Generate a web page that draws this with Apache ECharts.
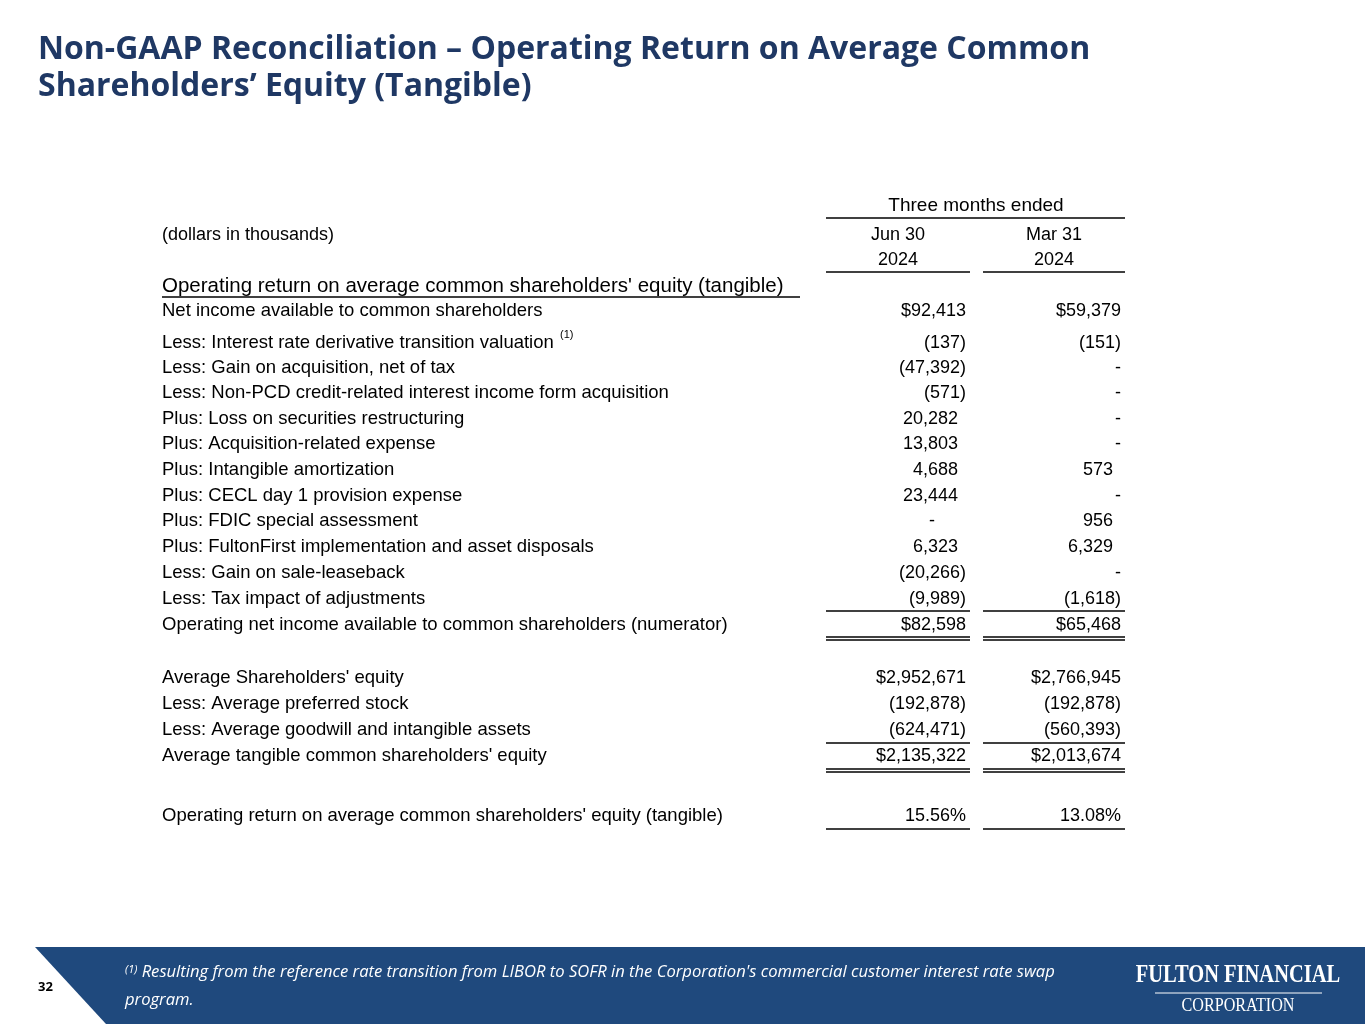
<!DOCTYPE html>
<html><head><meta charset="utf-8">
<script src="https://cdn.jsdelivr.net/npm/echarts@6/dist/echarts.min.js"></script>
<style>html,body{margin:0;padding:0;background:#fff}#main{width:1365px;height:1024px}</style>
</head><body><div id="main"></div>
<script>
var chart = echarts.init(document.getElementById('main'));
var F = "'Liberation Sans',Arial,sans-serif";
var navy = '#1f3864';

// label, Jun 30 2024, Mar 31 2024, y
var rows = [
  ['Net income available to common shareholders', '$92,413', '$59,379', 311],
  ['Less: Interest rate derivative transition valuation', '(137)', '(151)', 343, true],
  ['Less: Gain on acquisition, net of tax', '(47,392)', '-', 368],
  ['Less: Non-PCD credit-related interest income form acquisition', '(571)', '-', 393],
  ['Plus: Loss on securities restructuring', '20,282', '-', 419],
  ['Plus: Acquisition-related expense', '13,803', '-', 444],
  ['Plus: Intangible amortization', '4,688', '573', 470],
  ['Plus: CECL day 1 provision expense', '23,444', '-', 496],
  ['Plus: FDIC special assessment', '-', '956', 521],
  ['Plus: FultonFirst implementation and asset disposals', '6,323', '6,329', 547],
  ['Less: Gain on sale-leaseback', '(20,266)', '-', 573],
  ['Less: Tax impact of adjustments', '(9,989)', '(1,618)', 599],
  ['Operating net income available to common shareholders (numerator)', '$82,598', '$65,468', 625],
  ['Average Shareholders\' equity', '$2,952,671', '$2,766,945', 678],
  ['Less: Average preferred stock', '(192,878)', '(192,878)', 704],
  ['Less: Average goodwill and intangible assets', '(624,471)', '(560,393)', 730],
  ['Average tangible common shareholders\' equity', '$2,135,322', '$2,013,674', 756],
  ['Operating return on average common shareholders\' equity (tangible)', '15.56%', '13.08%', 816]
];

function valX(v, col) {
  var base = col === 0 ? 967 : 1122;
  if (v === '-') return col === 0 ? 932 : 1118;
  if (v.charAt(0) === '(' || v.charAt(0) === '$' || v.indexOf('%') > 0) return base - 1;
  return base - 9;
}

function txt(x, y, s, o) {
  o = o || {};
  return {type: 'text', x: x, y: y, style: {
    text: s, x: 0, y: 0, fill: o.fill || '#000', font: (o.font || ('18px ' + F)),
    textAlign: o.align || 'left', textVerticalAlign: 'middle'}};
}
function line(x1, y1, x2, y2, c, w) {
  return {type: 'line', shape: {x1: x1, y1: y1, x2: x2, y2: y2}, style: {stroke: c || '#000', lineWidth: w || 1.3}};
}

var g = [];
var TF = "bold 32px 'Open Sans',sans-serif";
g.push(txt(38, 50, 'Non-GAAP Reconciliation \u2013 Operating Return on Average Common', {fill: navy, font: TF}));
g.push(txt(38, 87, 'Shareholders\u2019 Equity (Tangible)', {fill: navy, font: TF}));

g.push(txt(976, 206, 'Three months ended', {align: 'center', font: '19px ' + F}));
g.push(line(826, 218, 1125, 218));
g.push(txt(162, 235, '(dollars in thousands)'));
g.push(txt(898, 235, 'Jun 30', {align: 'center'}));
g.push(txt(1054, 235, 'Mar 31', {align: 'center'}));
g.push(txt(898, 260, '2024', {align: 'center'}));
g.push(txt(1054, 260, '2024', {align: 'center'}));
g.push(line(826, 272, 970, 272));
g.push(line(983, 272, 1125, 272));
g.push(txt(162, 286, 'Operating return on average common shareholders\' equity (tangible)', {font: '20.5px ' + F}));
g.push(line(162, 297, 800, 297));

rows.forEach(function (r) {
  g.push(txt(162, r[3], r[0], {font: '18.5px ' + F}));
  if (r[4]) g.push(txt(560, r[3] - 8, '(1)', {font: '11px ' + F}));
  g.push(txt(valX(r[1], 0), r[3], r[1], {align: r[1] === '-' ? 'center' : 'right'}));
  g.push(txt(valX(r[2], 1), r[3], r[2], {align: r[2] === '-' ? 'center' : 'right'}));
});
g.push(line(826, 611, 970, 611)); g.push(line(983, 611, 1125, 611));
g.push(line(826, 637, 970, 637)); g.push(line(983, 637, 1125, 637));
g.push(line(826, 640, 970, 640)); g.push(line(983, 640, 1125, 640));
g.push(line(826, 743, 970, 743)); g.push(line(983, 743, 1125, 743));
g.push(line(826, 769, 970, 769)); g.push(line(983, 769, 1125, 769));
g.push(line(826, 772, 970, 772)); g.push(line(983, 772, 1125, 772));
g.push(line(826, 829, 970, 829)); g.push(line(983, 829, 1125, 829));

// footer
g.push({type: 'polygon', shape: {points: [[35, 947], [1365, 947], [1365, 1024], [106, 1024]]}, style: {fill: '#1f497d'}});
g.push(txt(38, 987, '32', {font: "bold 13px 'Open Sans',sans-serif"}));
g.push({type: 'text', x: 125, y: 964, style: {text: '{s|(1)} Resulting from the reference rate transition from LIBOR to SOFR in the Corporation\'s commercial customer interest rate swap',
  fill: '#fff', font: "italic 16.6px 'Open Sans',sans-serif", rich: {s: {fontSize: 11, verticalAlign: 'top', fill: '#fff', fontStyle: 'italic', fontFamily: 'Open Sans'}}}});
g.push(txt(125, 1000, 'program.', {fill: '#fff', font: "italic 16.6px 'Open Sans',sans-serif"}));
g.push({type: 'text', x: 1238, y: 976, scaleX: 0.82, style: {text: 'FULTON FINANCIAL', fill: '#fff', textAlign: 'center', textVerticalAlign: 'middle', font: "bold 25px 'Liberation Serif',serif"}});
g.push(line(1155, 993, 1322, 993, '#fff', 1));
g.push({type: 'text', x: 1238, y: 1006, scaleX: 0.85, style: {text: 'CORPORATION', fill: '#fff', textAlign: 'center', textVerticalAlign: 'middle', font: "19px 'Liberation Serif',serif"}});

chart.setOption({animation: false, graphic: g});
</script></body></html>
